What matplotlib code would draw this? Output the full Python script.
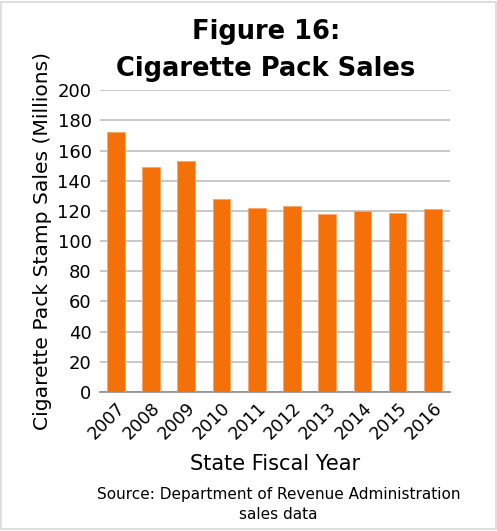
import matplotlib.pyplot as plt
from matplotlib.patches import Rectangle

years = ['2007', '2008', '2009', '2010', '2011', '2012', '2013', '2014', '2015', '2016']
sales = [172.4, 148.8, 153.0, 128.0, 122.0, 123.2, 117.7, 119.9, 118.5, 121.4]

fig = plt.figure(figsize=(4.97, 5.31), dpi=100, facecolor='white')
ax = fig.add_axes([0.201, 0.262, 0.704, 0.568])

# border round the whole figure
fig.patches.append(Rectangle((0.003, 0.003), 0.994, 0.994, transform=fig.transFigure,
                             fill=False, edgecolor='#d9d9d9', linewidth=1.2))

x = range(len(years))
ax.bar(x, sales, width=0.5, color='#f47008', edgecolor='#f8a56a', linewidth=0.6, zorder=3)

ax.set_ylim(0, 200)
ax.set_yticks(range(0, 201, 20))
ax.set_xlim(-0.45, len(years) - 0.52)
ax.set_xticks(list(x))
ax.set_xticklabels(years, rotation=45, ha='right', rotation_mode='anchor', fontsize=12.5)
ax.tick_params(axis='y', labelsize=13, length=0, pad=6)
ax.tick_params(axis='x', length=0, pad=5)
ax.grid(axis='y', color='#bfbfbf', linewidth=1.2, zorder=0)
for s in ['top', 'right', 'left']:
    ax.spines[s].set_visible(False)
ax.spines['bottom'].set_color('#8c8c8c')
ax.spines['bottom'].set_linewidth(1.2)

ax.set_ylabel('Cigarette Pack Stamp Sales (Millions)', fontsize=14.6, labelpad=4)
ax.set_xlabel('State Fiscal Year', fontsize=15, labelpad=8)

fig.text(0.535, 0.965, 'Figure 16:', ha='center', va='top', fontsize=18.5, fontweight='bold')
fig.text(0.535, 0.895, 'Cigarette Pack Sales', ha='center', va='top', fontsize=18.5, fontweight='bold')
fig.text(0.56, 0.05, 'Source: Department of Revenue Administration\nsales data',
         ha='center', va='center', fontsize=11, linespacing=1.35)

fig.savefig('out.png', dpi=100)
